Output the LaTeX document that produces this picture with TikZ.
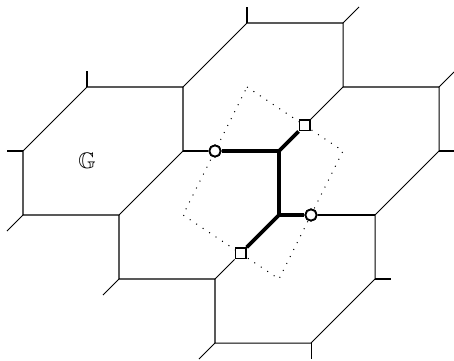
\documentclass[tikz,border=0pt]{standalone}
\usepackage{amssymb}
\begin{document}
\begin{tikzpicture}[x=0.5cm,y=0.5cm,
  edge/.style={line width=0.45pt},
  heavy/.style={line width=1.7pt},
  frame/.style={line width=0.45pt,dash pattern=on 0.45pt off 3pt},
  endc/.style={circle,draw,fill=white,line width=0.8pt,inner sep=0pt,minimum size=5pt},
  ends/.style={rectangle,draw,fill=white,line width=0.8pt,inner sep=0pt,minimum size=4.6pt}]
\useasboundingbox (-0.71875,-0.53125) rectangle (13.46875,10.71875);

% lattice vertices
\coordinate (v1) at (0,6);   \coordinate (v2) at (2,8);
\coordinate (v3) at (5,8);   \coordinate (v4) at (5,6);
\coordinate (v5) at (0,4);   \coordinate (v6) at (3,4);
\coordinate (v7) at (7,10);  \coordinate (v8) at (10,10);
\coordinate (v9) at (10,8);  \coordinate (v10) at (13,8);
\coordinate (v11) at (13,6); \coordinate (v12) at (11,4);
\coordinate (v13) at (11,2); \coordinate (v14) at (9,0);
\coordinate (v15) at (6,0);  \coordinate (v16) at (6,2);
\coordinate (v17) at (3,2);
\coordinate (A) at (8,6);    \coordinate (B) at (8,4);

% free ends of the cut edges
\coordinate (t2) at (2,8.5);
\coordinate (t1) at (-0.5,6);
\coordinate (t5) at (-0.5,3.5);
\coordinate (t7) at (7,10.5);
\coordinate (t8) at (10.5,10.5);
\coordinate (t10) at (13.47,8.47);
\coordinate (t11) at (13.47,6);
\coordinate (t13) at (11.5,2);
\coordinate (t14) at (9,-0.5);
\coordinate (t15) at (5.5,-0.5);
\coordinate (t17) at (2.5,1.5);

% dotted window
\coordinate (w1) at (7,8);  \coordinate (w2) at (10,6);
\coordinate (w3) at (8,2);  \coordinate (w4) at (5,4);

% endpoints of the highlighted piece
\node[endc] (c1) at (6,6) {};
\node[endc] (c2) at (9,4) {};
\node[ends] (s1) at (8.8,6.8) {};
\node[ends] (s2) at (6.8,2.8) {};

% thin lattice
\draw[edge] (v5) -- (v1) -- (v2) -- (v3) -- (v4) -- (v6) -- (v5);
\draw[edge] (v3) -- (v7) -- (v8) -- (v9) -- (v10) -- (v11) -- (v12) -- (v13) -- (v14) -- (v15) -- (v16) -- (v17) -- (v6);
\draw[edge] (v4) -- (c1);
\draw[edge] (c2) -- (v12);
\draw[edge] (s1) -- (v9);
\draw[edge] (s2) -- (v16);
\draw[edge] (v2) -- (t2);
\draw[edge] (v1) -- (t1);
\draw[edge] (v5) -- (t5);
\draw[edge] (v7) -- (t7);
\draw[edge] (v8) -- (t8);
\draw[edge] (v10) -- (t10);
\draw[edge] (v11) -- (t11);
\draw[edge] (v13) -- (t13);
\draw[edge] (v14) -- (t14);
\draw[edge] (v15) -- (t15);
\draw[edge] (v17) -- (t17);

% highlighted piece
\draw[heavy] (c1) -- (A) -- (B) -- (c2);
\draw[heavy] (s1) -- (A);
\draw[heavy] (B) -- (s2);

% window
\draw[frame] (w1) -- (w2) -- (w3) -- (w4) -- cycle;

% redraw endpoint markers on top
\node[endc] at (c1) {};
\node[endc] at (c2) {};
\node[ends] at (s1) {};
\node[ends] at (s2) {};

\node (G) at (2.0,5.7) {$\mathbb{G}$};
\end{tikzpicture}
\end{document}
